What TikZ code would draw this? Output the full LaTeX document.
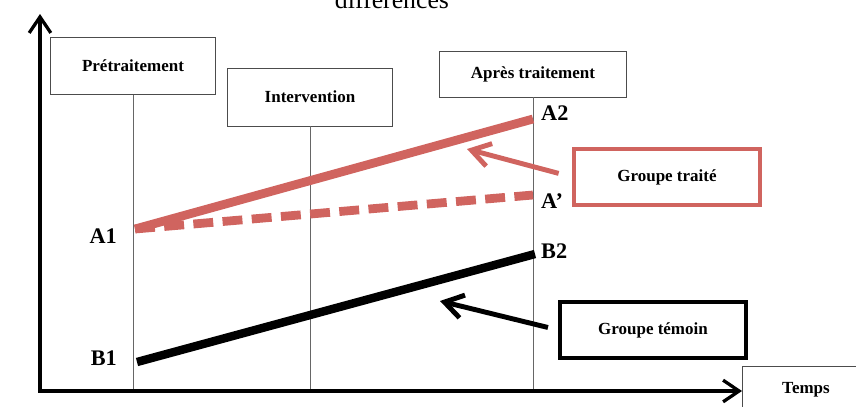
\documentclass[tikz,border=0pt]{standalone}
\usepackage{fontspec}
\setmainfont{Liberation Serif}
\usetikzlibrary{positioning,arrows.meta}
\definecolor{traitred}{RGB}{208,100,95}

\begin{document}
\begin{tikzpicture}[x=0.03cm,y=-0.03cm,
    phase/.style={rectangle,draw=black!70,line width=0.6pt,inner sep=0pt,
		font=\fontsize{14.5}{16}\selectfont\bfseries,text centered},
    group/.style={rectangle,line width=3.6pt,inner sep=0pt,
		minimum width=5.56cm,minimum height=1.66cm,
		font=\fontsize{14.5}{16}\selectfont\bfseries},
    point/.style={inner sep=0pt,font=\fontsize{19}{21}\selectfont\bfseries},
    axis/.style={line width=2.8pt,-{Straight Barb[length=4.8mm,width=6.5mm]}},
    timeline/.style={draw=black!60,line width=0.6pt},
    pointer/.style={line width=4.2pt,-{Straight Barb[length=5.5mm,width=7mm]}},
    ]
    \useasboundingbox (0,0) rectangle (856,406);

    % Place nodes
    \node [anchor=base,font=\fontsize{22}{24}\selectfont] (title) at (392,8) {différences};

    \node [phase,minimum width=4.95cm,minimum height=1.71cm] (pre) at (133,66) {Prétraitement};
    \node [phase,minimum width=4.95cm,minimum height=1.74cm] (interv) at (310,97) {Intervention};
    \node [phase,minimum width=5.61cm,minimum height=1.38cm] (apres) at (533,74) {Après traitement};
    \node [phase,minimum width=3.84cm,minimum height=1.44cm] (temps) at (806,390) {Temps};

    \node [group,draw=traitred] (traite) at (667,177) {Groupe traité};
    \node [group,draw=black] (temoin) at (653,330) {Groupe témoin};

    \coordinate (o) at (40,391);
    \coordinate (ytop) at (40,14);
    \coordinate (xend) at (742,391);

    \coordinate (a1) at (135,229);
    \coordinate (a2) at (533,119);
    \coordinate (ap) at (533,195);
    \coordinate (b1) at (137,362);
    \coordinate (b2) at (535,254);

    \node [point,anchor=east] (a1 label) at (117,236) {A1};
    \node [point,anchor=east] (b1 label) at (117,358) {B1};
    \node [point,anchor=west] (a2 label) at (541,113) {A2};
    \node [point,anchor=west] (ap label) at (541,201) {A’};
    \node [point,anchor=west] (b2 label) at (541,251) {B2};

    \coordinate (red tip) at (467,149);
    \coordinate (black tip) at (440,301);

    % Draw edges
    \draw [timeline] (pre.south) -- (pre.south |- o);
    \draw [timeline] (interv.south) -- (interv.south |- o);
    \draw [timeline] (apres.south) -- (apres.south |- o);

    \draw [traitred,line width=7.5pt] (a1) -- (a2);
    \draw [traitred,line width=7.5pt,dash pattern=on 17pt off 8pt] (a1) -- (ap);
    \draw [black,line width=7.2pt] (b1) -- (b2);

    \draw [pointer,traitred,shorten <=12pt] (traite.west) -- (red tip);
    \draw [pointer,black,shorten <=9pt] (temoin.west) -- (black tip);

    \draw [axis] (o) -- (ytop);
    \draw [axis] ([xshift=-1.4pt]o) -- (xend);

\end{tikzpicture}
\end{document}
